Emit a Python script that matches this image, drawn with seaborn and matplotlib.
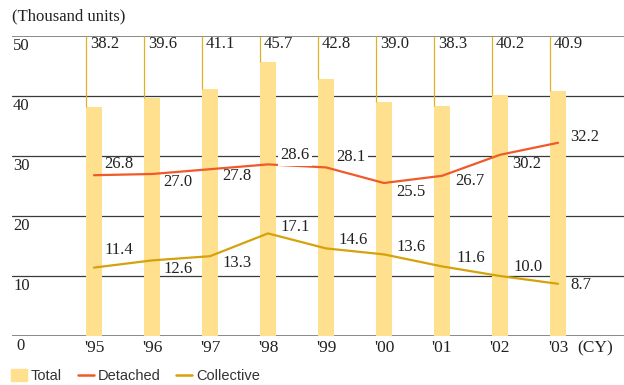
import numpy as np
import pandas as pd
import matplotlib
matplotlib.use("Agg")
import matplotlib.pyplot as plt
import matplotlib.transforms as mtransforms
from matplotlib.patches import Patch
from matplotlib.lines import Line2D
import seaborn as sns

# Housing starts, thousand units, by calendar year
years = ["'95", "'96", "'97", "'98", "'99", "'00", "'01", "'02", "'03"]
total = [38.2, 39.6, 41.1, 45.7, 42.8, 39.0, 38.3, 40.2, 40.9]
detached = [26.8, 27.0, 27.8, 28.6, 28.1, 25.5, 26.7, 30.2, 32.2]
collective = [11.4, 12.6, 13.3, 17.1, 14.6, 13.6, 11.6, 10.0, 8.7]
y_ticks = [0, 10, 20, 30, 40, 50]

BAR = "#FFE08E"
DET = "#F05A28"
COL = "#D4A20B"
LEAD = "#E0B020"
TXT = "#222222"
GRID = "#3a3a3a"

SERIF = ["Liberation Serif", "DejaVu Serif"]
SANS = ["Liberation Sans", "DejaVu Sans"]

sns.set_theme(style="white")
plt.rcParams["font.family"] = SERIF

fig = plt.figure(figsize=(6.24, 3.85), dpi=100)
W, H = 624, 385
ax = fig.add_axes([12 / W, 49 / H, 612 / W, 300 / H])

df = pd.DataFrame({"year": years, "total": total,
                   "detached": detached, "collective": collective})
df["pos"] = np.arange(len(df))

bar_w = 0.276
sns.barplot(data=df, x="year", y="total", color=BAR, saturation=1,
            width=bar_w, ax=ax, zorder=2, linewidth=0)
sns.lineplot(data=df, x="pos", y="detached", color=DET, lw=1.6, ax=ax,
             zorder=4, sort=False)
sns.lineplot(data=df, x="pos", y="collective", color=COL, lw=1.6, ax=ax,
             zorder=4, sort=False)

ax.set_xlim(-1.414, 9.138)
ax.set_ylim(0, 50)
for s in ax.spines.values():
    s.set_visible(False)
ax.set_xlabel("")
ax.set_ylabel("")
ax.set_yticks([])
ax.set_xticks(df["pos"])
ax.set_xticklabels(years, fontsize=12.5, color=TXT, family=SERIF)
ax.tick_params(axis="x", length=0, pad=3)

# horizontal gridlines with value labels just beneath them
ylab_tr = mtransforms.blended_transform_factory(ax.transAxes, ax.transData)
for t in y_ticks:
    if t in (0, y_ticks[-1]):
        ax.axhline(t, color="#808080", lw=1.3, zorder=1)
    else:
        ax.axhline(t, color=GRID, lw=0.9, zorder=1)
    ax.annotate(str(t), xy=(0, t), xycoords=ylab_tr,
                xytext=(1 if t else 4, -2), textcoords="offset pixels",
                ha="left", va="top", fontsize=12, color=TXT)

# leader lines from the top gridline to each bar, with total values
top = y_ticks[-1]
for i, v in enumerate(total):
    x0 = i - bar_w / 2
    ax.plot([x0, x0], [v, top], color=LEAD, lw=0.9, zorder=3,
            solid_capstyle="butt")
    ax.annotate(f"{v:.1f}", xy=(x0, top), xytext=(4, -8),
                textcoords="offset pixels", ha="left", va="center",
                fontsize=12, color=TXT, zorder=5)

# per-point label offsets (pixels) for each line series
det_off = [(10, 11), (11, -8), (12, -7), (12, 9), (10, 10),
           (12, -9), (13, -5), (12, -9), (12, 6)]
col_off = [(10, 18), (11, -9), (12, -7), (12, 6), (12, 8),
           (12, 7), (14, 8), (13, 9), (12, -1)]
boxed = {("det", 3), ("det", 4)}

for key, vals, offs in (("det", detached, det_off),
                        ("col", collective, col_off)):
    for i, (v, (dx, dy)) in enumerate(zip(vals, offs)):
        kw = {}
        if (key, i) in boxed:
            kw["bbox"] = dict(boxstyle="square,pad=0.15", fc="white",
                              ec="none")
        ax.annotate(f"{v:.1f}", xy=(i, v), xytext=(dx, dy),
                    textcoords="offset pixels", ha="left", va="center",
                    fontsize=12, color=TXT, zorder=5, **kw)

ax.annotate("(CY)", xy=(8, 0), xytext=(19, -12), textcoords="offset pixels",
            ha="left", va="center", fontsize=12.5, color=TXT)

fig.text(12 / W, 1 - 16 / H, "(Thousand units)", ha="left", va="center",
         fontsize=12, color=TXT)

handles = [Patch(color=BAR, label="Total"),
           Line2D([], [], color=DET, lw=1.8, label="Detached"),
           Line2D([], [], color=COL, lw=1.8, label="Collective")]
fig.legend(handles=handles, loc="center left",
           bbox_to_anchor=(8 / W, 1 - 376 / H), ncol=3, frameon=False,
           prop={"family": SANS, "size": 10.5}, handlelength=1.1,
           handleheight=0.9, handletextpad=0.25, columnspacing=1.1,
           borderaxespad=0, borderpad=0.2)
for txt in fig.legends[0].get_texts():
    txt.set_color("#333333")

fig.savefig("out.png", dpi=100)
